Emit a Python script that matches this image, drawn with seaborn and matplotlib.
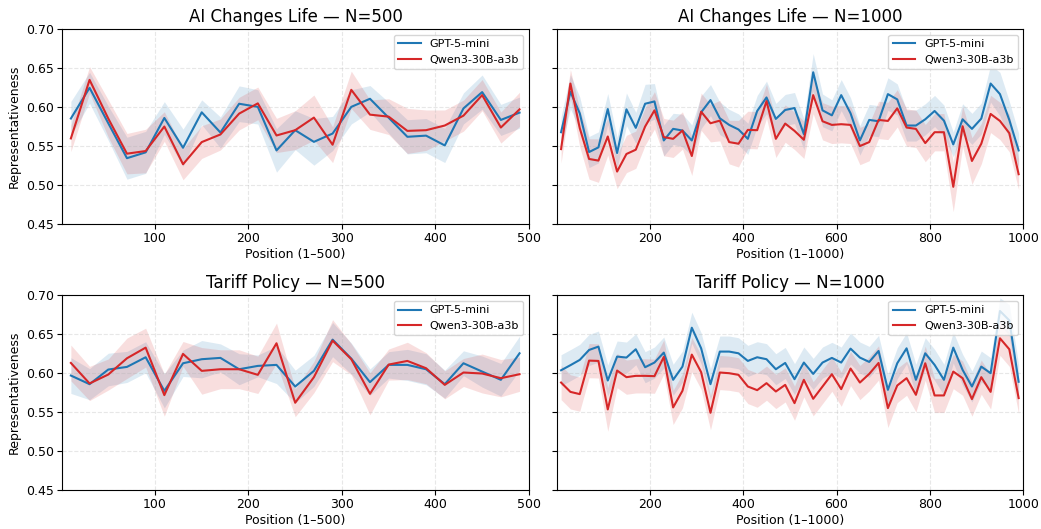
import numpy as np
import pandas as pd
import matplotlib
matplotlib.use("Agg")
import matplotlib.pyplot as plt
import seaborn as sns

models = ["GPT-5-mini", "Qwen3-30B-a3b"]
colors = ["#1f77b4", "#d62728"]

pos500 = list(range(10, 500, 20))
pos1000 = list(range(10, 1000, 20))

# AI Changes Life, N=500
ai500_gpt = [0.585, 0.6245, 0.579, 0.534, 0.5415, 0.5857, 0.5474, 0.593, 0.567, 0.604,
             0.600, 0.544, 0.570, 0.555, 0.5657, 0.600, 0.6104, 0.586, 0.5615, 0.563,
             0.5504, 0.598, 0.619, 0.5832, 0.5926]
ai500_gpt_hw = [0.022, 0.02, 0.022, 0.027, 0.027, 0.021, 0.024, 0.016, 0.02, 0.023,
                0.022, 0.028, 0.025, 0.03, 0.022, 0.022, 0.017, 0.02, 0.022, 0.022,
                0.022, 0.02, 0.022, 0.02, 0.02]
ai500_qwen = [0.5594, 0.6347, 0.585, 0.5398, 0.5432, 0.5747, 0.5262, 0.5547, 0.5645, 0.5913,
              0.6045, 0.5632, 0.570, 0.5862, 0.5513, 0.6219, 0.590, 0.5874, 0.5691, 0.570,
              0.576, 0.5887, 0.6151, 0.5734, 0.5968]
ai500_qwen_hw = [0.017, 0.017, 0.024, 0.026, 0.028, 0.019, 0.02, 0.021, 0.02, 0.021,
                 0.021, 0.022, 0.025, 0.029, 0.023, 0.024, 0.019, 0.023, 0.029, 0.026,
                 0.02, 0.02, 0.02, 0.02, 0.022]

# AI Changes Life, N=1000
ai1000_gpt = [0.5674, 0.6194, 0.5917, 0.5419, 0.5479, 0.5972, 0.5406, 0.5968, 0.573, 0.604,
              0.607, 0.5568, 0.5717, 0.5696, 0.5568, 0.593, 0.6087, 0.5853, 0.5768, 0.5709,
              0.5589, 0.5947, 0.6121, 0.5845, 0.596, 0.5985, 0.5649, 0.6445, 0.5955, 0.5891,
              0.6151, 0.5917, 0.5568, 0.5832, 0.5815, 0.6164, 0.6096, 0.576, 0.576, 0.584,
              0.5947, 0.5823, 0.5517, 0.584, 0.5717, 0.5849, 0.630, 0.6164, 0.5832, 0.544]
ai1000_gpt_hw = [0.02, 0.022, 0.021, 0.02, 0.02, 0.02, 0.02, 0.021, 0.02, 0.025,
                 0.023, 0.02, 0.02, 0.021, 0.02, 0.021, 0.02, 0.021, 0.02, 0.02,
                 0.02, 0.02, 0.021, 0.02, 0.02, 0.02, 0.02, 0.024, 0.021, 0.02,
                 0.02, 0.02, 0.019, 0.02, 0.02, 0.021, 0.02, 0.02, 0.02, 0.02,
                 0.02, 0.02, 0.016, 0.02, 0.02, 0.02, 0.024, 0.028, 0.024, 0.022]
ai1000_qwen = [0.5457, 0.630, 0.5726, 0.533, 0.5309, 0.5619, 0.5168, 0.5394, 0.5449, 0.5747,
               0.5955, 0.5611, 0.5589, 0.5696, 0.5368, 0.5938, 0.5789, 0.5823, 0.5547, 0.5526,
               0.5704, 0.570, 0.6074, 0.5589, 0.5785, 0.5691, 0.5577, 0.6151, 0.5815, 0.5768,
               0.5777, 0.5768, 0.5496, 0.5547, 0.5832, 0.5819, 0.5981, 0.5734, 0.5717, 0.5534,
               0.5674, 0.5674, 0.4972, 0.5751, 0.5304, 0.5526, 0.5909, 0.5819, 0.5662, 0.5134]
ai1000_qwen_hw = [0.018, 0.018, 0.024, 0.026, 0.028, 0.024, 0.022, 0.024, 0.024, 0.024,
                  0.024, 0.024, 0.024, 0.024, 0.025, 0.024, 0.024, 0.026, 0.028, 0.03,
                  0.024, 0.024, 0.022, 0.024, 0.024, 0.024, 0.024, 0.024, 0.024, 0.024,
                  0.024, 0.024, 0.024, 0.024, 0.024, 0.024, 0.024, 0.024, 0.024, 0.024,
                  0.024, 0.024, 0.032, 0.026, 0.03, 0.026, 0.024, 0.024, 0.024, 0.02]

# Tariff Policy, N=500
tp500_gpt = [0.597, 0.5859, 0.6047, 0.6081, 0.6205, 0.5773, 0.6128, 0.618, 0.6197, 0.6051,
             0.6094, 0.6107, 0.5829, 0.603, 0.6432, 0.6188, 0.5885, 0.6107, 0.6107, 0.6051,
             0.5859, 0.6128, 0.6021, 0.5915, 0.6256]
tp500_gpt_hw = [0.023, 0.02, 0.021, 0.02, 0.02, 0.022, 0.017, 0.024, 0.018, 0.02,
                0.014, 0.024, 0.021, 0.02, 0.022, 0.02, 0.017, 0.017, 0.02, 0.02,
                0.018, 0.016, 0.02, 0.021, 0.022]
tp500_qwen = [0.6132, 0.5868, 0.5983, 0.6192, 0.6329, 0.5718, 0.6248, 0.603, 0.6051, 0.6051,
              0.5979, 0.6385, 0.562, 0.5949, 0.6419, 0.618, 0.5735, 0.6111, 0.6158, 0.6064,
              0.585, 0.6009, 0.5996, 0.5936, 0.5987]
tp500_qwen_hw = [0.023, 0.022, 0.02, 0.026, 0.025, 0.027, 0.016, 0.03, 0.025, 0.025,
                 0.024, 0.026, 0.018, 0.02, 0.027, 0.02, 0.027, 0.02, 0.024, 0.02,
                 0.018, 0.018, 0.025, 0.024, 0.022]

# Tariff Policy, N=1000
tp1000_gpt = [0.6038, 0.6103, 0.6171, 0.6299, 0.6342, 0.5906, 0.6214, 0.6201, 0.6308, 0.6077,
              0.6137, 0.6265, 0.5915, 0.6085, 0.6585, 0.632, 0.5859, 0.6278, 0.6278, 0.6256,
              0.6158, 0.6205, 0.618, 0.6051, 0.6132, 0.5923, 0.6137, 0.5991, 0.6137, 0.6197,
              0.6137, 0.6316, 0.6201, 0.6145, 0.6286, 0.5786, 0.6128, 0.632, 0.5915, 0.6256,
              0.6107, 0.5915, 0.6329, 0.6043, 0.5829, 0.6085, 0.600, 0.680, 0.668, 0.589]
tp1000_gpt_hw = [0.02, 0.02, 0.02, 0.02, 0.02, 0.02, 0.02, 0.02, 0.02, 0.02,
                 0.02, 0.02, 0.02, 0.02, 0.02, 0.02, 0.02, 0.02, 0.02, 0.02,
                 0.02, 0.02, 0.02, 0.02, 0.02, 0.02, 0.02, 0.02, 0.02, 0.02,
                 0.02, 0.02, 0.02, 0.02, 0.02, 0.02, 0.02, 0.02, 0.02, 0.02,
                 0.02, 0.02, 0.02, 0.02, 0.02, 0.02, 0.02, 0.017, 0.02, 0.022]
tp1000_qwen = [0.588, 0.576, 0.5731, 0.6162, 0.6158, 0.5534, 0.6034, 0.5949, 0.5966, 0.5966,
               0.5962, 0.6209, 0.556, 0.5774, 0.6239, 0.6013, 0.5491, 0.6009, 0.600, 0.5979,
               0.5829, 0.5782, 0.5872, 0.5765, 0.585, 0.5615, 0.5915, 0.5671, 0.5829, 0.5987,
               0.5795, 0.606, 0.588, 0.5991, 0.6132, 0.5551, 0.5842, 0.5936, 0.5722, 0.6128,
               0.5714, 0.5714, 0.6021, 0.5936, 0.5667, 0.5949, 0.576, 0.6449, 0.6308, 0.568]
tp1000_qwen_hw = [0.022, 0.022, 0.022, 0.022, 0.022, 0.028, 0.022, 0.022, 0.022, 0.022,
                  0.022, 0.022, 0.022, 0.022, 0.022, 0.022, 0.022, 0.022, 0.022, 0.022,
                  0.022, 0.022, 0.022, 0.022, 0.022, 0.022, 0.022, 0.022, 0.022, 0.022,
                  0.022, 0.022, 0.022, 0.022, 0.022, 0.025, 0.022, 0.022, 0.022, 0.022,
                  0.022, 0.022, 0.022, 0.022, 0.022, 0.022, 0.022, 0.022, 0.022, 0.02]

panels = [
    ("AI Changes Life — N=500", pos500, 500, [(ai500_gpt, ai500_gpt_hw), (ai500_qwen, ai500_qwen_hw)]),
    ("AI Changes Life — N=1000", pos1000, 1000, [(ai1000_gpt, ai1000_gpt_hw), (ai1000_qwen, ai1000_qwen_hw)]),
    ("Tariff Policy — N=500", pos500, 500, [(tp500_gpt, tp500_gpt_hw), (tp500_qwen, tp500_qwen_hw)]),
    ("Tariff Policy — N=1000", pos1000, 1000, [(tp1000_gpt, tp1000_gpt_hw), (tp1000_qwen, tp1000_qwen_hw)]),
]

plt.rcParams["font.family"] = ["DejaVu Sans"]

fig, axes = plt.subplots(2, 2, figsize=(10.41, 5.29), dpi=100, sharey=True)
fig.subplots_adjust(left=0.06, right=0.983, top=0.945, bottom=0.074, wspace=0.06, hspace=0.37)

for ax, (title, pos, n, series) in zip(axes.flat, panels):
    for (mean, hw), name, col in zip(series, models, colors):
        m = np.array(mean)
        h = np.array(hw)
        df = pd.DataFrame({"Position": pos, "Rep": m})
        sns.lineplot(data=df, x="Position", y="Rep", ax=ax, color=col, linewidth=1.5, label=name)
        ax.fill_between(pos, m - h, m + h, color=col, alpha=0.15, linewidth=0)
    ax.set_xlim(1, n)
    ax.set_ylim(0.45, 0.70)
    ax.set_yticks([0.45, 0.50, 0.55, 0.60, 0.65, 0.70])
    ax.grid(True, linestyle="--", alpha=0.3)
    ax.set_title(title, fontsize=12, pad=5)
    ax.set_xlabel(f"Position (1–{n})", fontsize=9, labelpad=2)
    ax.set_ylabel("Representativeness", fontsize=9)
    ax.tick_params(labelsize=9, pad=2.5)
    ax.legend(loc="upper right", fontsize=8, frameon=True)

for ax in axes[:, 1]:
    ax.set_ylabel("")
    ax.tick_params(labelleft=False)

fig.savefig("out.png", dpi=100)
